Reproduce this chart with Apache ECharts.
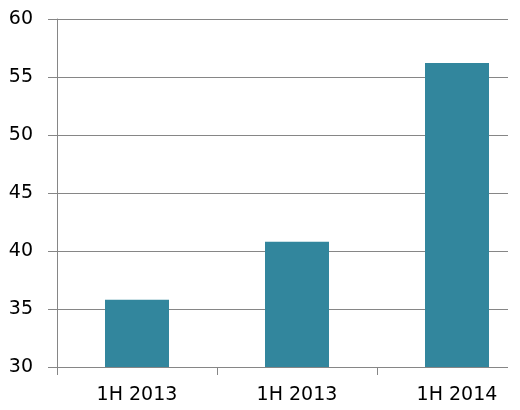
<!DOCTYPE html>
<html><head><meta charset="utf-8">
<script src="https://cdn.jsdelivr.net/npm/echarts@6/dist/echarts.min.js"></script>
<style>html,body{margin:0;padding:0;background:#fff;overflow:hidden;width:520px;height:410px}#c{width:537px;height:410px}</style>
</head><body><div id="c"></div>
<script>
var categories = ["1H 2013", "1H 2013", "1H 2014"];
var values = [35.8, 40.8, 56.2];
var yMin = 30, yMax = 60, yStep = 5;

var chart = echarts.init(document.getElementById('c'), null, {renderer: 'canvas'});
var font = '"DejaVu Sans", sans-serif';
chart.setOption({
  animation: false,
  grid: {left: 57, right: 0, top: 19, bottom: 43},
  xAxis: {
    type: 'category', data: categories,
    axisLine: {lineStyle: {color: '#868686', width: 1}},
    axisTick: {show: true, length: 8, lineStyle: {color: '#868686'}},
    axisLabel: {color: '#000', fontSize: 19, fontFamily: font, margin: 19}
  },
  yAxis: {
    type: 'value', min: yMin, max: yMax, interval: yStep,
    axisLine: {show: true, lineStyle: {color: '#868686', width: 1}},
    axisTick: {show: true, length: 9, lineStyle: {color: '#868686'}},
    splitLine: {lineStyle: {color: '#868686', width: 1}},
    axisLabel: {color: '#000', fontSize: 19, fontFamily: font, margin: 24}
  },
  series: [{
    type: 'bar', data: values, barWidth: 64,
    itemStyle: {color: '#32869D'}
  }],
  graphic: [{
    type: 'rect', left: 508, top: 0, z: 100,
    shape: {width: 40, height: 370},
    style: {fill: '#fff'}
  }]
});
</script></body></html>
